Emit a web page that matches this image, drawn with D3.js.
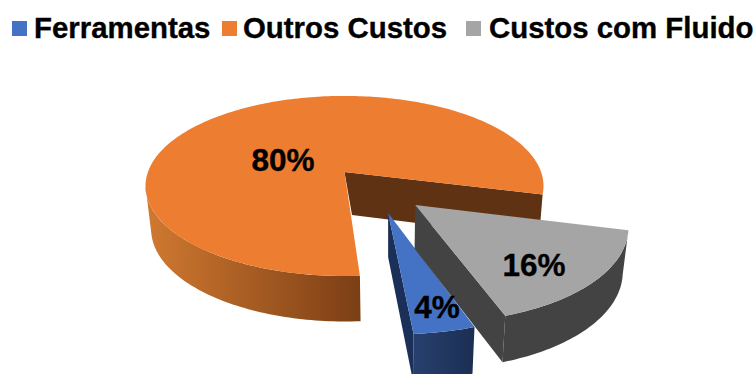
<!DOCTYPE html>
<html>
<head>
<meta charset="utf-8">
<script src="https://cdn.jsdelivr.net/npm/d3@7"></script>
<style>
  html, body { margin: 0; padding: 0; background: #fff; }
  svg { display: block; }
  text { font-family: "Liberation Sans", Arial, sans-serif; font-weight: 700; fill: #000; stroke: #000; stroke-width: 0.35px; }
</style>
</head>
<body>
<svg id="chart" width="754" height="374"></svg>
<script>
// Cost shares, in legend order
const categories = ["Ferramentas", "Outros Custos", "Custos com Fluido"];
const shares = [4, 80, 16];
const labels = ["4%", "80%", "16%"];
const topColors = ["#4472c4", "#ed7d31", "#a5a5a5"];

// Pull-out of each slice in disc units (sideways, towards the viewer)
const explodeX = [0.207, 0, 0.34];
const explodeY = [0.435, 0, 0.355];

const legendX = [12, 222, 466];
const legendTextX = [34, 243, 489];
const labelPos = [[437, 307], [283, 160], [534, 265]];

const svg = d3.select("#chart");
const defs = svg.append("defs");

function hGradient(id, x1, x2, c1, c2) {
  const g = defs.append("linearGradient").attr("id", id)
    .attr("gradientUnits", "userSpaceOnUse")
    .attr("x1", x1).attr("x2", x2).attr("y1", 0).attr("y2", 0);
  g.append("stop").attr("offset", 0).attr("stop-color", c1);
  g.append("stop").attr("offset", 1).attr("stop-color", c2);
}
hGradient("wall-orange", 150, 362, "#cf7830", "#7b3e15");
hGradient("wall-blue", 414, 476, "#28406f", "#1b2e52");

// Perspective projection of the disc plane; the lower plane gives the rim's base
const tilt = 0.155;
const topPlane = { x0: 344.5, y0: 172, a: 196.6, b: 87.9 };
const basePlane = { x0: 345.5, y0: 215, a: 192, b: 90 };

function project(plane, u, v) {
  const w = 1 - tilt * v;
  return [plane.x0 + plane.a * u / w, plane.y0 + plane.b * v / w];
}

// Unit-disc point at a clockwise-from-top angle, moved by the slice's pull-out
function discPoint(angle, i, r = 1) {
  return [r * Math.sin(angle) + explodeX[i], -r * Math.cos(angle) + explodeY[i]];
}

function rim(plane, i, a0, a1) {
  const n = Math.max(2, Math.ceil(Math.abs(a1 - a0) / 0.02));
  return d3.range(n + 1).map(k => {
    const [u, v] = discPoint(a0 + (a1 - a0) * k / n, i);
    return project(plane, u, v);
  });
}
function hub(plane, i) {
  const [u, v] = discPoint(0, i, 0);
  return project(plane, u, v);
}

const line = d3.line();
const closed = pts => line(pts) + "Z";
const deg = d => d * Math.PI / 180;

const arcs = d3.pie().sort(null).startAngle(deg(161.8)).endAngle(deg(521.8))(shares);

const pie = svg.append("g");
function face(pts, fill) {
  pie.append("path").attr("d", closed(pts)).attr("fill", fill);
}
function wall(i, a0, a1, fill, baseEnd = a1) {
  face(rim(topPlane, i, a0, a1).concat(rim(basePlane, i, baseEnd, a0)), fill);
}

// Large slice: inner cut face, outer rim up to the left silhouette, then the top surface
const big = arcs[1];
const bigHubBase = [352, 215];
face([hub(topPlane, 1), ...rim(topPlane, 1, big.endAngle, big.endAngle),
      ...rim(basePlane, 1, big.endAngle, big.endAngle), bigHubBase], "#5e3213");
wall(1, big.startAngle, deg(261), "url(#wall-orange)", deg(257));
face([hub(topPlane, 1), ...rim(topPlane, 1, big.startAngle, big.endAngle)], topColors[1]);

// Small slice: cut face on its left, rim, top
const small = arcs[0];
const sA = rim(topPlane, 0, small.endAngle, small.endAngle)[0];
const sB = rim(basePlane, 0, small.endAngle, small.endAngle)[0];
face([hub(topPlane, 0), sA, sB, hub(basePlane, 0)], "#1b3059");
wall(0, small.startAngle, small.endAngle, "url(#wall-blue)");
face([hub(topPlane, 0), ...rim(topPlane, 0, small.startAngle, small.endAngle)], topColors[0]);

// Fluid slice: cut face towards the viewer, rim, top
const fluid = arcs[2];
const fA = rim(topPlane, 2, fluid.endAngle, fluid.endAngle)[0];
const fB = rim(basePlane, 2, fluid.endAngle, fluid.endAngle)[0];
face([hub(topPlane, 2), fA, fB, hub(basePlane, 2)], "#434343");
wall(2, fluid.startAngle, fluid.endAngle, "#434343");
face([hub(topPlane, 2), ...rim(topPlane, 2, fluid.startAngle, fluid.endAngle)], topColors[2]);

// Value labels
svg.append("g").selectAll("text").data(labels).join("text")
  .attr("x", (d, i) => labelPos[i][0])
  .attr("y", (d, i) => labelPos[i][1])
  .attr("text-anchor", "middle")
  .attr("dominant-baseline", "central")
  .attr("font-size", 31.5)
  .text(d => d);

// Legend row
const legend = svg.append("g");
legend.selectAll("rect").data(categories).join("rect")
  .attr("x", (d, i) => legendX[i]).attr("y", 21)
  .attr("width", 15).attr("height", 15)
  .attr("fill", (d, i) => topColors[i]);
legend.selectAll("text").data(categories).join("text")
  .attr("x", (d, i) => legendTextX[i]).attr("y", 38)
  .attr("font-size", 29.4)
  .text(d => d);
</script>
</body>
</html>
